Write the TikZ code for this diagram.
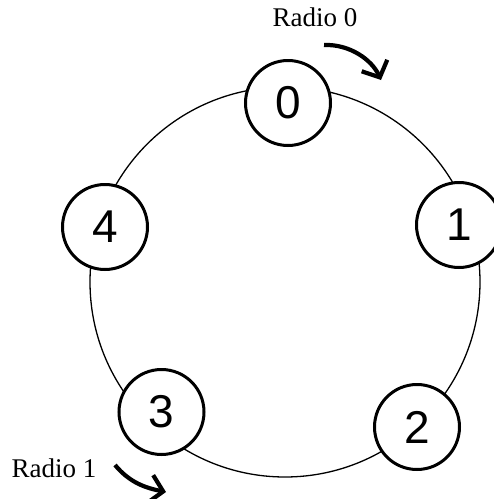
\documentclass[tikz,border=0pt]{standalone}
\usepackage{fontspec}
\setmainfont{Liberation Serif}
\newfontfamily\digitfont{Liberation Sans}
\usetikzlibrary{arrows.meta, positioning}
\tikzset{%
radio node/.style={
    circle, draw, line width=3pt,
    fill=white,
    minimum size=85pt,
    inner sep=0pt, outer sep=0pt,
    font=\digitfont\fontsize{46}{46}\selectfont
},
radio label/.style={
    anchor=base, inner sep=0pt,
    font=\fontsize{27}{27}\selectfont
},
ring/.style={line width=1.3pt},
hop arrow/.style={
    line width=4.2pt,
    -{Straight Barb[length=13pt,width=28pt]}
},
}
\begin{document}
\begin{tikzpicture}[x=1pt,y=-1pt]
\useasboundingbox (0,0) rectangle (494,499);

% ring behind the radios
\coordinate (ring-c) at (285,282);
\draw [ring] (ring-c) circle[radius=195pt];

% radios
\node (r0) [radio node] at (288,103) {0};
\node (r1) [radio node] at (459,225) {1};
\node (r2) [radio node] at (417,427) {2};
\node (r3) [radio node] at (161.5,412) {3};
\node (r4) [radio node] at (105,227) {4};

% hop labels
\node (lab0) [radio label] at (315,26) {Radio 0};
\node (lab1) [radio label] at (54,477) {Radio 1};

\coordinate (hop0-a) at (324,45);
\coordinate (hop0-b) at (381,80);
\draw [hop arrow] (hop0-a) .. controls (350,44) and (372,60) .. (hop0-b);
\coordinate (hop1-a) at (115,465);
\coordinate (hop1-b) at (166,492);
\draw [hop arrow] (hop1-a) .. controls (130,483) and (146,488) .. (hop1-b);
\end{tikzpicture}
\end{document}
